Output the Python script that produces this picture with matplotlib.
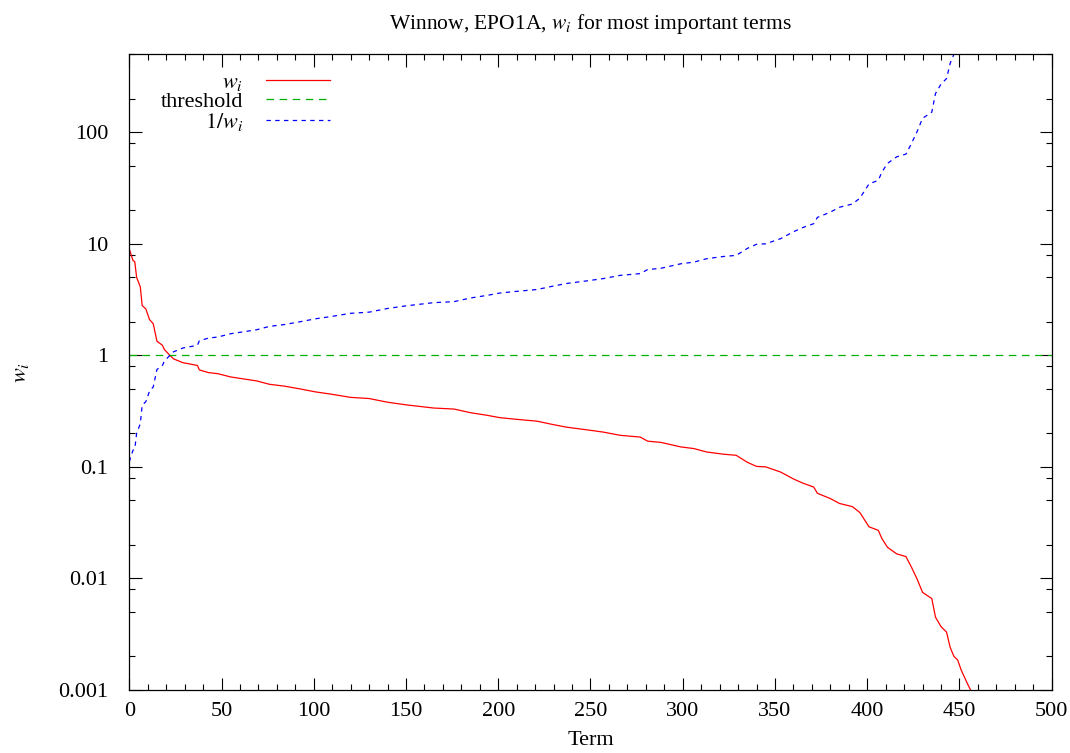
import matplotlib
matplotlib.use("Agg")
import matplotlib.pyplot as plt
from matplotlib.ticker import FixedLocator, MultipleLocator
import numpy as np

# term index and weight
terms = [0, 2, 3, 4, 6, 7, 9, 11, 13, 15, 18, 19, 22, 24, 29, 34, 37, 38, 43, 48,
         55, 69, 76, 84, 94, 101, 109, 120, 130, 140, 150, 165, 176, 185, 194, 201,
         212, 221, 230, 237, 248, 257, 266, 277, 281, 288, 299, 306, 313, 322, 329,
         335, 340, 345, 353, 360, 365, 371, 373, 380, 385, 392, 396, 401, 406, 408,
         411, 416, 421, 424, 427, 430, 435, 437, 440, 443, 445, 447, 449, 451, 454,
         456, 459]
weights = [9.0, 7.1, 6.9, 5.0, 4.1, 2.8, 2.6, 2.09, 1.92, 1.34, 1.23, 1.13, 1.0, 0.93,
           0.86, 0.83, 0.81, 0.74, 0.70, 0.685, 0.64, 0.59, 0.55, 0.53, 0.495, 0.47,
           0.45, 0.42, 0.41, 0.38, 0.36, 0.337, 0.33, 0.306, 0.29, 0.276, 0.265, 0.257,
           0.239, 0.227, 0.215, 0.205, 0.192, 0.185, 0.17, 0.166, 0.151, 0.146, 0.136,
           0.13, 0.127, 0.11, 0.101, 0.10, 0.090, 0.078, 0.0716, 0.066, 0.058, 0.052,
           0.047, 0.044, 0.039, 0.029, 0.027, 0.0227, 0.019, 0.0166, 0.0157, 0.0126,
           0.0099, 0.0075, 0.0066, 0.0045, 0.0037, 0.0033, 0.0024, 0.0020, 0.00186,
           0.0015, 0.00117, 0.00100, 0.0008]
threshold = 1.0

x_ticks = [0, 50, 100, 150, 200, 250, 300, 350, 400, 450, 500]
y_ticks = [0.001, 0.01, 0.1, 1, 10, 100]
y_tick_labels = ["0.001", "0.01", "0.1", "1", "10", "100"]
y_minor = [m * 10.0 ** e for e in range(-3, 3) for m in (2, 5, 8)]

plt.rcParams['font.family'] = ['Liberation Serif', 'DejaVu Serif']
plt.rcParams['mathtext.fontset'] = 'stix'
plt.rcParams['font.size'] = 16

fig = plt.figure(figsize=(10.70, 7.53), dpi=100)
ax = fig.add_axes([0.1208, 0.0837, 0.8621, 0.8442])

w = np.array(weights)
ax.plot(terms, w, color='#ff0000', lw=0.9, label='$w_i$')
ax.plot([0, 500], [threshold, threshold], color='#00b000', lw=0.9,
        linestyle=(0, (6, 4.5)), label='threshold')
ax.plot(terms, 1.0 / w, color='#0000ff', lw=0.9,
        linestyle=(0, (3.5, 3.5)), label='$1/w_i$')

ax.set_yscale('log')
ax.set_xlim(0, 500)
ax.set_ylim(0.001, 500)

ax.xaxis.set_major_locator(FixedLocator(x_ticks))
ax.xaxis.set_minor_locator(MultipleLocator(10))
ax.yaxis.set_major_locator(FixedLocator(y_ticks))
ax.yaxis.set_minor_locator(FixedLocator(y_minor))
ax.set_yticklabels(y_tick_labels)
ax.yaxis.set_minor_formatter(plt.NullFormatter())

ax.tick_params(which='both', direction='in', top=True, right=True, color='black')
ax.tick_params(which='major', length=9, width=0.8)
ax.tick_params(which='minor', length=4.5, width=0.8)
ax.tick_params(axis='y', which='major', pad=15)
ax.tick_params(axis='x', which='major', pad=9)
for s in ax.spines.values():
    s.set_linewidth(0.9)

ax.set_title('Winnow, EPO1A, $w_i$ for most important terms', fontsize=15.5, pad=18)
ax.set_xlabel('Term', labelpad=7)
ax.set_ylabel('$w_i$', labelpad=20)

leg = ax.legend(loc='upper right', bbox_to_anchor=(0.2176, 0.972), frameon=False,
                markerfirst=False, handlelength=2.9, handletextpad=1.0,
                labelspacing=-0.05, borderaxespad=0.0, borderpad=0.0)

fig.savefig('out.png', dpi=100)
